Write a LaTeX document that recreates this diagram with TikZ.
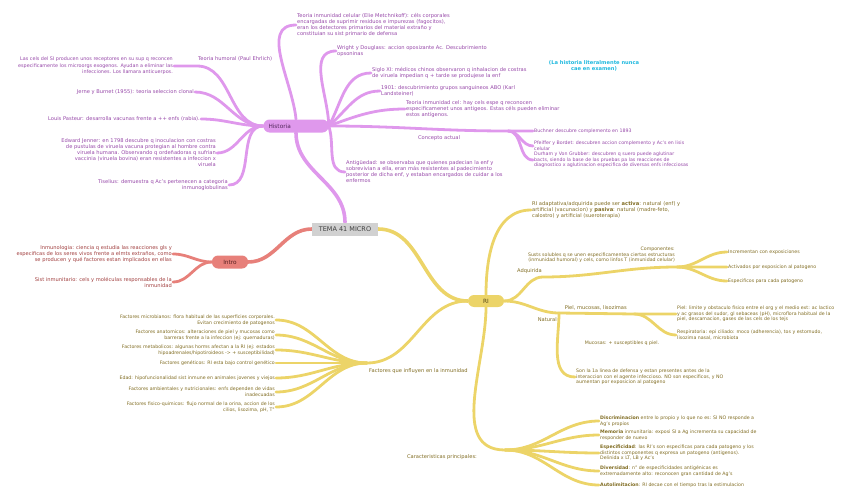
\documentclass[tikz,border=0pt]{standalone}
\usepackage{fontspec}
\setmainfont{DejaVu Sans}
\usetikzlibrary{backgrounds}
\definecolor{histline}{RGB}{223,152,236}
\definecolor{histtext}{RGB}{150,72,168}
\definecolor{introline}{RGB}{231,128,122}
\definecolor{introtext}{RGB}{160,62,62}
\definecolor{riline}{RGB}{236,212,104}
\definecolor{ritext}{RGB}{128,108,34}
\definecolor{notecyan}{RGB}{30,184,222}
\newcommand{\tx}{\fontsize{5.15}{6}\selectfont}
\newcommand{\sx}{\fontsize{4.7}{5.6}\selectfont}

\begin{document}
\begin{tikzpicture}[x=1pt,y=-1pt,
  every node/.style={font=\tx,inner sep=1pt},
  hl/.style={histline,line width=2.8pt,line cap=round},
  il/.style={introline,line width=2.8pt,line cap=round},
  rl/.style={riline,line width=2.8pt,line cap=round},
  ht/.style={text=histtext},
  it/.style={text=introtext},
  rt/.style={text=ritext},
  leaf/.style={font=\sx},
  topic/.style={rounded corners=6pt,minimum height=13pt,font=\fontsize{5.8}{6.5}\selectfont}]
\useasboundingbox (0,0) rectangle (848,503);

\node[fill=black!18,text=black!75,minimum width=66pt,minimum height=13pt,font=\fontsize{6.5}{7}\selectfont] (tema) at (345,229) {TEMA 41 MICRO};
\node[topic,fill=histline,text=histtext!55!black,minimum width=65pt,text width=55pt,align=left] (hist) at (296,126) {Historia};
\node[topic,fill=introline,text=introtext!55!black,minimum width=36pt] (intro) at (230,262) {Intro};
\node[topic,fill=riline,text=ritext!65!black,minimum width=36pt,minimum height=12pt] (ri) at (486,301) {RI};

\coordinate (hum) at (197,66);
\node[ht,anchor=south west] (humoral) at (197,62) {Teoria humoral (Paul Ehrlich)};
\node[ht,leaf,anchor=east,align=right,font=\fontsize{4.85}{6.4}\selectfont] (lascels) at (174,66) {Las cels del SI producen unos receptores en su sup q reconcen\\especificamente los microorgs exogenos. Ayudan a eliminar las\\infecciones. Los llamara anticuerpos.};
\node[ht,anchor=east] (jerne) at (195,92) {Jerne y Burnet (1955): teoria seleccion clonal};
\node[ht,anchor=east] (pasteur) at (201,119) {Louis Pasteur: desarrolla vacunas frente a ++ enfs (rabia).};
\node[ht,anchor=east,align=right] (jenner) at (217,153) {Edward Jenner: en 1798 descubre q inoculacion con costras\\de pustulas de viruela vacuna protegian al hombre contra\\viruela humana. Observando q ordeñadoras q sufrian\\vaccinia (viruela bovina) eran resistentes a infeccion x\\viruela};
\node[ht,anchor=east,align=right] (tiselius) at (229,185) {Tiselius: demuestra q Ac's pertenecen a categoria\\inmunoglobulinas};

\node[ht,anchor=west,align=left] (celular) at (296,25) {Teoria inmunidad celular (Elie Metchnikoff): céls corporales\\encargadas de suprimir residuos e impurezas (fagocitos),\\eran los detectores primarios del material extraño y\\constituian su sist primario de defensa};
\node[ht,anchor=west,align=left] (wright) at (336,51) {Wright y Douglass: accion oposizante Ac. Descubrimiento\\opsoninas};
\node[ht,anchor=west,align=left] (siglo) at (371,73) {Siglo XI: médicos chinos observaron q inhalacion de costras\\de viruela impedian q + tarde se produjese la enf};
\node[ht,anchor=west,align=left] (d1901) at (380,91) {1901: descubrimiento grupos sanguineos ABO (Karl\\Landsteiner)};
\node[ht,anchor=west,align=left] (teocel) at (405,109) {Teoria inmunidad cel: hay cels espe q reconocen\\especificamenet unos antigeos. Estas céls pueden eliminar\\estos antígenos.};
\coordinate (conc) at (508,131);
\node[ht] (concepto) at (439,138) {Concepto actual};
\node[ht,leaf,anchor=west] (buchner) at (533,131) {Buchner descubre complemento en 1893};
\node[ht,leaf,anchor=west,align=left] (pfeiffer) at (533,146) {Pfeiffer y Bordet: descubren accion complemento y Ac's en lisis\\celular};
\node[ht,leaf,anchor=west,align=left] (durham) at (533,160) {Durham y Von Grubber: descubren q suero puede aglutinar\\bacts, siendo la base de las pruebas pa las reacciones de\\diagnostico x aglutinacion especifica de diversas enfs infecciosas};
\node[ht,anchor=west,align=left] (antig) at (345,172) {Antigüedad: se observaba que quienes padecian la enf y\\sobrevivian a ella, eran más resistentes al padecimiento\\posterior de dicha enf, y estaban encargados de cuidar a los\\enfermos};
\node[text=notecyan,font={\tx\bfseries},align=center] (nota) at (594,66) {(La historia literalmente nunca\\cae en examen)};

\node[it,anchor=east,align=right] (inmu) at (173,254) {Inmunologia: ciencia q estudia las reacciones gls y\\especificas de los seres vivos frente a elmts extraños, como\\se producen y qué factores estan implicados en ellas};
\node[it,anchor=east,align=right] (sist) at (173,282) {Sist inmunitario: cels y moléculas responsables de la\\inmunidad};

\node[rt,anchor=west,align=left] (adapt) at (531,210) {RI adaptativa/adquirida puede ser \textbf{activa}: natural (enf) y\\artificial (vacunacion) y \textbf{pasiva}: natural (madre-feto,\\calostro) y artificial (sueroterapia)};
\coordinate (adq) at (543,277);
\coordinate (comp) at (677,267);
\node[rt,anchor=south east] (adquirida) at (543,275) {Adquirida};
\node[rt,leaf,anchor=south east,align=right] (componentes) at (676,264) {Componentes:\\Susts solubles q se unen especificamentea ciertas estructuras\\(inmunidad humoral) y cels, como linfos T (inmunidad celular)};
\node[rt,leaf,anchor=west] (incr) at (727,252) {Incrementan con exposiciones};
\node[rt,leaf,anchor=west] (activ) at (727,267) {Activados por exposicion al patogeno};
\node[rt,leaf,anchor=west] (espec) at (727,281) {Especificos para cada patogeno};
\coordinate (nat) at (559,313);
\node[rt,anchor=north east] (natural) at (558,316) {Natural};
\coordinate (piel) at (634,314);
\node[rt,anchor=south east] (pielmuc) at (628,311) {Piel, mucosas, lisozimas};
\node[rt,leaf,anchor=west,align=left] (pieltx) at (676,314) {Piel: limite y obstaculo fisico entre el org y el medio ext: ac lactico\\y ac grasos del sudor, gl sebaceas (pH), microflora habitual de la\\piel, descamacion, gases de las cels de los tejs};
\node[rt,leaf,anchor=west,align=left] (resp) at (676,335) {Respiratoria: epi ciliado: moco (adherencia), tos y estornudo,\\lisozima nasal, microbiota};
\node[rt,leaf] (mucosas) at (622,343) {Mucosas: + susceptibles q piel.};
\node[rt,leaf,anchor=west,align=left] (son1a) at (575,377) {Son la 1a linea de defensa y estan presentes antes de la\\interaccion con el agente infeccioso. NO son especificos, y NO\\aumentan por exposicion al patogeno};

\coordinate (fact) at (367,363);
\node[rt,anchor=north west] (factores) at (368,367) {Factores que influyen en la inmunidad};
\node[rt,leaf,anchor=east,align=right] (microb) at (276,320) {Factores microbianos: flora habitual de las superficies corporales.\\Evitan crecimiento de patogenos};
\node[rt,leaf,anchor=east,align=right] (anat) at (276,335) {Factores anatomicos: alteraciones de piel y mucosas como\\barreras frente a la infeccion (ej: quemaduras)};
\node[rt,leaf,anchor=east,align=right] (metab) at (276,350) {Factores metabolicos: algunas horms afectan a la RI (ej: estados\\hipoadrenales/hipotiroideos -> + susceptibilidad)};
\node[rt,leaf,anchor=east] (genet) at (276,363) {Factores genéticos: RI esta bajo control genético};
\node[rt,leaf,anchor=east] (edad) at (276,378) {Edad: hipofuncionalidad sist inmune en animales jovenes y viejos};
\node[rt,leaf,anchor=east,align=right] (amb) at (276,392) {Factores ambientales y nutricionales: enfs dependen de vidas\\inadecuadas};
\node[rt,leaf,anchor=east,align=right] (fisq) at (276,407) {Factores fisico-quimicos: flujo normal de la orina, accion de los\\cilios, lisozima, pH, T°};

\coordinate (car) at (505,450);
\node[rt] (caract) at (442,457) {Caracteristicas principales:};
\node[rt,leaf,anchor=west,align=left] (discr) at (599,421) {\textbf{Discriminacion} entre lo propio y lo que no es: SI NO responde a\\Ag's propios};
\node[rt,leaf,anchor=west,align=left] (mem) at (599,435) {\textbf{Memoria} inmunitaria: exposi SI a Ag incrementa su capacidad de\\responder de nuevo};
\node[rt,leaf,anchor=west,align=left] (espe) at (599,453) {\textbf{Especificidad}: las RI's son especificas para cada patogeno y los\\distintos componentes q expresa un patogeno (antigenos).\\Delinida x LT, LB y Ac's};
\node[rt,leaf,anchor=west,align=left] (div) at (599,471) {\textbf{Diversidad}: n° de especificidades antigénicas es\\extremadamente alto: reconocen gran cantidad de Ag's};
\node[rt,leaf,anchor=west] (auto) at (599,485) {\textbf{Autolimitacion}: RI decae con el tiempo tras la estimulacion};

\begin{scope}[on background layer]
\draw[hl,line width=3.6pt] (tema.north) to[out=90,in=-90] (hist.south);
\draw[il,line width=3.6pt] (tema.west) to[out=180,in=0] (intro.east);
\draw[rl,line width=3.6pt] (tema.east) to[out=0,in=180] (ri.west);

\draw[hl] (hist.west) to[out=180,in=0] (hum) -- (lascels.east);
\draw[hl] (hist.west) to[out=180,in=0] (jerne.east);
\draw[hl] (hist.west) to[out=180,in=0] (pasteur.east);
\draw[hl] (hist.west) to[out=180,in=0] (jenner.east);
\draw[hl] (hist.west) to[out=180,in=0] (tiselius.east);
\draw[hl] (hist.north) to[out=95,in=180] (celular.west);
\draw[hl] (hist.east) to[out=90,in=180] (wright.west);
\draw[hl] (hist.east) to[out=60,in=180] (siglo.west);
\draw[hl] (hist.east) to[out=40,in=180] (d1901.west);
\draw[hl] (hist.east) to[out=20,in=180] (teocel.west);
\draw[hl] (hist.east) to[out=0,in=180] (conc) -- (buchner.west);
\draw[hl] (conc) to[out=0,in=180] (pfeiffer.west);
\draw[hl] (conc) to[out=0,in=180] (durham.west);
\draw[hl] (hist.east) to[out=-70,in=180] (antig.west);

\draw[il] (intro.west) to[out=180,in=0] (inmu.east);
\draw[il] (intro.west) to[out=180,in=0] (sist.east);

\draw[rl] (ri.north) to[out=90,in=180] (adapt.west);
\draw[rl] (ri.east) to[out=0,in=180] (adq) to[out=0,in=180] (comp) -- (activ.west);
\draw[rl] (comp) to[out=0,in=180] (incr.west);
\draw[rl] (comp) to[out=0,in=180] (espec.west);
\draw[rl] (ri.east) to[out=0,in=180] (nat) -- (piel) -- (pieltx.west);
\draw[rl] (piel) to[out=0,in=180] (resp.west);
\draw[rl] (nat) to[out=-90,in=180] (son1a.west);
\draw[rl] (ri.west) to[out=180,in=0] (fact);
\draw[rl] (fact) to[out=180,in=0] (microb.east);
\draw[rl] (fact) to[out=180,in=0] (anat.east);
\draw[rl] (fact) to[out=180,in=0] (metab.east);
\draw[rl] (fact) -- (genet.east);
\draw[rl] (fact) to[out=180,in=0] (edad.east);
\draw[rl] (fact) to[out=180,in=0] (amb.east);
\draw[rl] (fact) to[out=180,in=0] (fisq.east);
\draw[rl] (ri.south) to[out=-90,in=180] (car);
\draw[rl] (car) to[out=0,in=180] (discr.west);
\draw[rl] (car) to[out=0,in=180] (mem.west);
\draw[rl] (car) to[out=0,in=180] (espe.west);
\draw[rl] (car) to[out=0,in=180] (div.west);
\draw[rl] (car) to[out=0,in=180] (auto.west);
\end{scope}
\end{tikzpicture}
\end{document}
